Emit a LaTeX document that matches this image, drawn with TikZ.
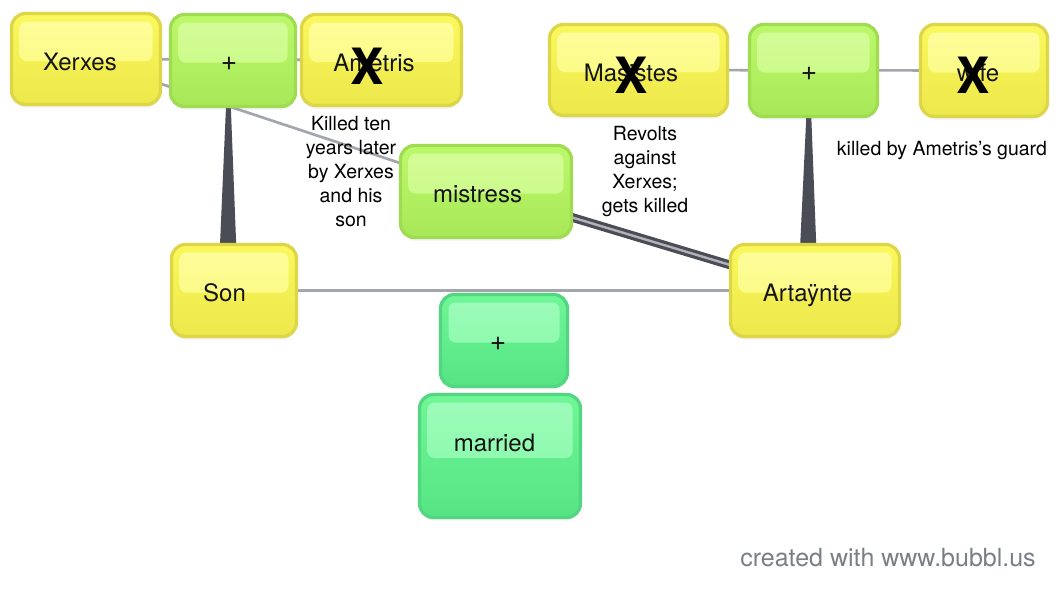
\documentclass[tikz,border=0pt]{standalone}
\usepackage{fontspec}
\setmainfont{TeX Gyre Heros}
\usetikzlibrary{backgrounds,shadows,calc}
\definecolor{ybd}{HTML}{DDD748}
\definecolor{yhl}{HTML}{FDFD9E}
\definecolor{ytop}{HTML}{FAF85C}
\definecolor{ybot}{HTML}{EDE84C}
\definecolor{gbd}{HTML}{A0DC52}
\definecolor{ghl}{HTML}{D5FC9B}
\definecolor{gtop}{HTML}{BCF96A}
\definecolor{gbot}{HTML}{A8E858}
\definecolor{tbd}{HTML}{52D67F}
\definecolor{thl}{HTML}{9FFCBC}
\definecolor{ttop}{HTML}{70F796}
\definecolor{tbot}{HTML}{55E485}
\definecolor{linegray}{HTML}{A4A6AE}
\definecolor{taper}{HTML}{4A4D56}
\definecolor{footgray}{HTML}{7A7F87}
\begin{document}
\begin{tikzpicture}[x=1pt,y=-1pt,
  box/.style={rounded corners=14pt, line width=3.2pt, inner sep=0pt,
    text height=24pt, text depth=2pt, font=\fontsize{24}{28}\selectfont, text=black!92,
    drop shadow={shadow xshift=0pt, shadow yshift=-3pt, opacity=0.10}},
  ybox/.style={box, draw=ybd, top color=ytop, bottom color=ybot,
    path picture={\shade[top color=yhl, bottom color=yhl!35!ytop, rounded corners=7pt]
      ([xshift=8pt,yshift=-8pt]path picture bounding box.north west) rectangle
      ([xshift=-8pt,yshift=-2pt]path picture bounding box.east);}},
  gbox/.style={box, draw=gbd, top color=gtop, bottom color=gbot,
    path picture={\shade[top color=ghl, bottom color=ghl!35!gtop, rounded corners=7pt]
      ([xshift=8pt,yshift=-8pt]path picture bounding box.north west) rectangle
      ([xshift=-8pt,yshift=-2pt]path picture bounding box.east);}},
  tbox/.style={box, draw=tbd, top color=ttop, bottom color=tbot,
    path picture={\shade[top color=thl, bottom color=thl!35!ttop, rounded corners=7pt]
      ([xshift=8pt,yshift=-8pt]path picture bounding box.north west) rectangle
      ([xshift=-8pt,yshift=-2pt]path picture bounding box.east);}},
  plus/.style={text height=24pt, text depth=4pt, font=\fontsize{28}{30}\selectfont},
  xmark/.style={inner sep=0pt, font=\fontsize{50}{50}\selectfont\bfseries, text=black},
  lbl/.style={align=center, inner sep=0pt, font=\fontsize{19.5}{24}\selectfont, text=black},
  thin/.style={draw=linegray, line width=2.7pt},
  taperfill/.style={fill=taper},
  dbl/.style={draw=taper, line width=3.2pt, double=linegray!85, double distance=2.4pt}
]
\useasboundingbox (0,0) rectangle (1056,592);
\begin{pgfonlayer}{background}
  \fill[white] (0,0) rectangle (1056,592);
\end{pgfonlayer}

% nodes
\node[ybox, minimum width=149pt, minimum height=91pt] (xerxes) at (86,59) {Xerxes\hspace*{12pt}};
\node[gbox, plus, minimum width=125pt, minimum height=92pt] (plusA) at (233,60.5) {+\hspace*{8pt}};
\node[ybox, minimum width=160pt, minimum height=91pt] (ametris) at (381.5,60) {Ametris\hspace*{15pt}};
\node[ybox, minimum width=178pt, minimum height=91pt] (masistes) at (638.5,70) {Masistes\hspace*{15pt}};
\node[gbox, plus, minimum width=128pt, minimum height=92pt] (plusB) at (813.5,70.5) {+\hspace*{9pt}};
\node[ybox, minimum width=127pt, minimum height=92pt] (wife) at (984,70.5) {wife\hspace*{12pt}};
\node[gbox, minimum width=171pt, minimum height=92pt] (mistress) at (486,191.5) {mistress\hspace*{17pt}};
\node[ybox, minimum width=125pt, minimum height=92pt] (son) at (234,290.5) {Son\hspace*{19pt}};
\node[ybox, minimum width=169pt, minimum height=92pt] (arta) at (815,290.5) {Artaÿnte\hspace*{15pt}};
\node[tbox, plus, minimum width=127pt, minimum height=92pt] (plusC) at (504,340.5) {+\hspace*{12pt}};
\node[tbox, text height=17pt, text depth=26pt, minimum width=161pt, minimum height=123pt] (married) at (500,456) {married\hspace*{11pt}};

% crosses
\node[xmark] (xA) at (367.5,66.5) {X};
\node[xmark] (xM) at (631.5,75) {X};
\node[xmark] (xW) at (973,75) {X};

% labels
\node[lbl] (lblA) at (351,172) {Killed ten\\years later\\by Xerxes\\and his\\son};
\node[lbl] (lblM) at (645,172) {Revolts\\against\\Xerxes;\\gets killed};
\node[lbl] (lblW) at (942,151) {killed by Ametris’s guard};
\node[inner sep=0pt, font=\fontsize{25}{28}\selectfont, text=footgray] (foot) at (888,558) {created with www.bubbl.us};

% connectors
\begin{pgfonlayer}{background}
  \draw[thin] (xerxes.center) -- (ametris.center);
  \draw[thin] (xerxes.center) -- (mistress.center);
  \draw[thin] (masistes.center) -- (wife.center);
  \draw[thin] (son.center) -- (arta.center);
  \draw[dbl] (mistress.center) -- (arta.center);
  \fill[taperfill] ([xshift=-5pt]plusA.center) -- ([xshift=-4pt]plusA.center)
     -- ([xshift=4pt]son.center) -- ([xshift=-16pt]son.center) -- cycle;
  \fill[taperfill] ([xshift=-5pt]plusB.center) -- ([xshift=-4pt]plusB.center)
     -- ([xshift=3pt]arta.center) -- ([xshift=-17pt]arta.center) -- cycle;
\end{pgfonlayer}
\end{tikzpicture}
\end{document}
